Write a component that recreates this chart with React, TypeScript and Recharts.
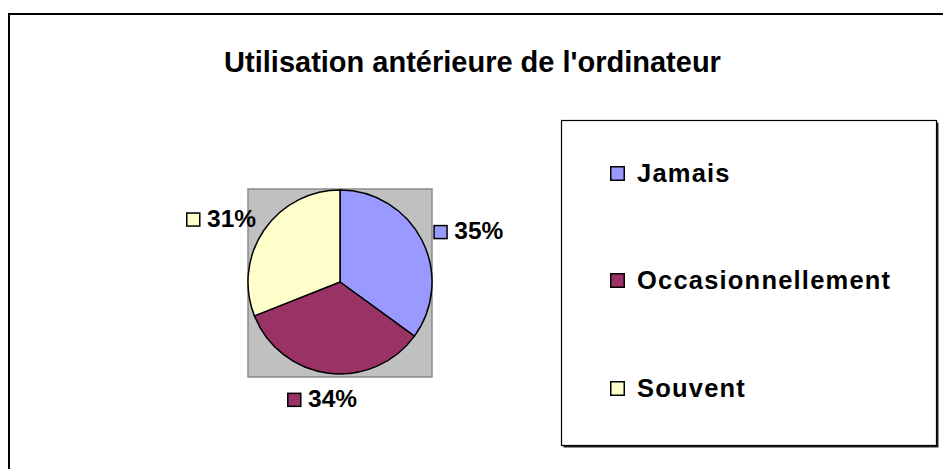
import React from "react";
import { PieChart, Pie, Cell, Legend, Customized } from "recharts";

const categories = ["Jamais", "Occasionnellement", "Souvent"];
const values = [35, 34, 31];
const colors = ["#9999FF", "#993366", "#FFFFCC"];
const title = "Utilisation antérieure de l'ordinateur";

const data = categories.map((name, i) => ({ name, value: values[i] }));

const FONT = "Arial, 'Liberation Sans', Helvetica, sans-serif";
const W = 935;
const H = 461;
const CX = 332;
const CY = 274;
const R = 92;

const Backdrop = () => (
  <g>
    <rect x={CX - R} y={CY - R - 1} width={2 * R} height={2 * R + 4} fill="#C0C0C0" stroke="#8A8A8A" strokeWidth={1.5} />
    <text x={464.5} y={64} textAnchor="middle" fontFamily={FONT} fontWeight="bold" fontSize={29} fill="#000">
      {title}
    </text>
  </g>
);

const RADIAN = Math.PI / 180;

const renderLabel = (props: any) => {
  const { cx, cy, midAngle, outerRadius, percent, index } = props;
  const t = midAngle * RADIAN;
  const c = Math.cos(t);
  const s = Math.sin(t);
  const txt = `${Math.round(percent * 100)}%`;
  const fs = 24.5;
  const tw = txt.length * 0.555 * fs + 0.33 * fs;
  const w = 14 + 7 + tw;
  const hw = w / 2;
  const bcx = cx + (outerRadius + 17) * c + hw * c;
  const bcy = cy - (outerRadius + 24) * s + 1;
  const left = bcx - hw;
  const base = bcy + 9;
  return (
    <g key={`lbl-${index}`}>
      <rect x={left + 0.75} y={base - 13.75} width={13} height={13} fill={colors[index]} stroke="#000" strokeWidth={1.5} />
      <text x={left + 21} y={base} fontFamily={FONT} fontWeight="bold" fontSize={fs} fill="#000">
        {txt}
      </text>
    </g>
  );
};

const LegendBox = (props: any) => {
  const payload = props.payload || [];
  const baselines = [62, 169, 277];
  return (
    <svg width={380} height={331} style={{ display: "block", overflow: "visible" }}>
      <rect x={2.5} y={2.5} width={375} height={325} fill="#222" />
      <rect x={0.5} y={0.5} width={375} height={325} fill="#fff" stroke="#000" strokeWidth={1.2} />
      {payload.map((p: any, i: number) => (
        <g key={p.value}>
          <rect x={49.75} y={baselines[i] - 15.25} width={13.5} height={13.5} fill={p.color} stroke="#000" strokeWidth={1.5} />
          <text x={76} y={baselines[i]} fontFamily={FONT} fontWeight="bold" fontSize={25.5} letterSpacing={1.2} fill="#000">
            {p.value}
          </text>
        </g>
      ))}
    </svg>
  );
};

export default function App() {
  return (
    <div style={{ position: "fixed", left: 0, top: 0, width: 943, height: 469, overflow: "hidden", background: "#fff" }}>
      <div style={{ position: "absolute", left: 8, top: 8, width: W, height: H }}>
        <div
          style={{
            position: "absolute",
            left: 0,
            top: 5,
            width: 1000,
            height: 1000,
            border: "2px solid #000",
            boxSizing: "border-box",
          }}
        />
        <div style={{ position: "absolute", left: 0, top: 0 }}>
          <PieChart width={W} height={H} margin={{ top: 0, right: 0, bottom: 0, left: 0 }}>
            <Customized component={Backdrop} />
            <Pie
              data={data}
              dataKey="value"
              nameKey="name"
              cx={CX}
              cy={CY}
              outerRadius={R}
              startAngle={90}
              endAngle={-270}
              stroke="#000"
              strokeWidth={1.5}
              label={renderLabel}
              labelLine={false}
              isAnimationActive={false}
            >
              {data.map((d, i) => (
                <Cell key={d.name} fill={colors[i]} />
              ))}
            </Pie>
            <Legend
              layout="vertical"
              align="right"
              verticalAlign="middle"
              content={<LegendBox />}
              wrapperStyle={{ position: "absolute", left: 553, top: 112, width: 380, height: 331 }}
            />
          </PieChart>
        </div>
      </div>
    </div>
  );
}
